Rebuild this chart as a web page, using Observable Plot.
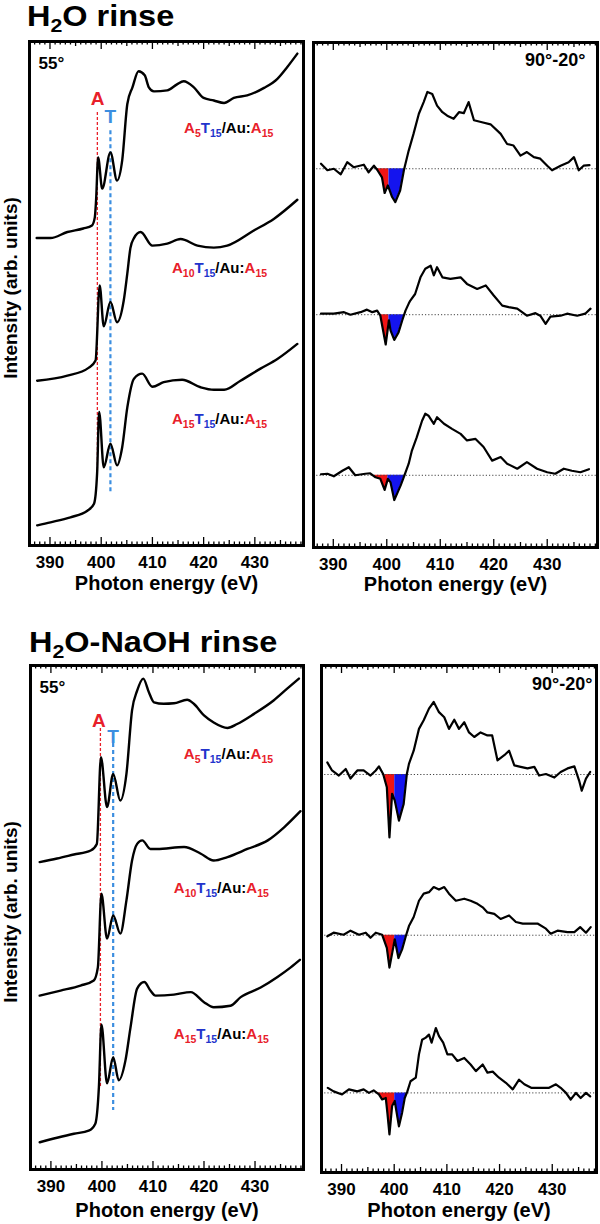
<!DOCTYPE html>
<html><head><meta charset="utf-8">
<script src="https://cdn.jsdelivr.net/npm/d3@7"></script>
<script src="https://cdn.jsdelivr.net/npm/@observablehq/plot@0.6"></script>
<style>
html,body{margin:0;background:#fff;}
#root{position:relative;width:600px;height:1224px;font-family:Arial,"Liberation Sans",Helvetica,sans-serif;overflow:hidden;color:#000;}
.abs{position:absolute;}
.title{font-weight:bold;font-size:29px;line-height:1;white-space:nowrap;transform:scaleX(1.12);transform-origin:0 0;}
.title sub{font-size:19px;vertical-align:-6px;line-height:0;}
.ylab{font-weight:bold;font-size:19px;line-height:1;white-space:nowrap;transform:translate(-50%,-50%) rotate(-90deg);}
.lab{font-weight:bold;font-size:15px;line-height:1;white-space:nowrap;transform:translate(-50%,-50%);}
.lab sub{font-size:10.5px;vertical-align:-4px;line-height:0;}
.r{color:#e8202a}.b{color:#2233cc}
</style></head><body><div id="root"></div>
<script>
// ---------- DATA ----------
const energyTicks = [390, 400, 410, 420, 430];

// H2O rinse, 55° (stacked, arb. units with offsets)
const h2o55_A5_E = [387.4,390.1,393.4,396.5,398.2,398.75,399.0,399.4,400.2,401.8,403.1,404.1,405.1,406.1,407.3,408.5,409.3,410.3,412.9,414.8,416.1,418.1,420.0,422.0,424.0,425.9,428.5,431.8,434.4,436.3,438.3];
const h2o55_A5_I = [6.10,6.10,6.22,6.29,6.35,6.51,6.85,7.70,7.08,7.80,7.24,7.64,8.76,9.09,9.41,9.33,9.09,9.01,9.03,9.15,9.21,9.09,8.88,8.83,8.78,8.88,8.93,9.08,9.26,9.49,9.76];
const h2o55_A10_E = [387.5,393.4,397.6,398.9,399.7,400.5,401.8,403.1,404.4,405.1,405.7,406.4,407.7,410.0,412.9,415.5,418.8,422.0,424.6,429.8,433.7,438.3];
const h2o55_A10_I = [3.27,3.37,3.53,3.67,5.16,4.35,4.83,4.43,4.86,5.40,5.90,6.10,6.22,5.95,5.99,6.08,5.95,5.91,5.95,6.25,6.48,6.86];
const h2o55_A15_E = [387.5,390.1,394.0,397.3,398.6,399.2,399.6,400.5,401.8,403.1,404.1,405.1,406.4,408.0,410.0,412.2,415.8,419.4,422.0,424.0,427.2,431.1,434.4,438.3];
const h2o55_A15_I = [0.40,0.46,0.56,0.69,0.83,1.43,2.65,1.55,2.02,1.59,1.95,2.74,3.31,3.41,3.15,3.24,3.29,3.14,3.09,3.09,3.27,3.51,3.70,4.00];

// H2O rinse, 90°-20° difference
const h2oDiff_base = [7.50, 4.61, 1.43];
const h2oDiff_A5_E = [387.7,388.9,390.1,391.4,392.6,393.8,395.7,396.6,397.6,398.2,399.1,399.6,400.2,401.0,401.6,402.5,403.2,404.1,405.0,406.0,406.9,407.6,408.5,409.4,410.4,411.3,412.5,413.5,414.4,415.3,416.3,417.8,419.4,421.3,422.5,423.7,425.0,426.2,427.5,428.7,430.0,430.9,432.5,434.0,435.0,435.9,436.8,437.9];
const h2oDiff_A5_I = [7.60,7.47,7.50,7.39,7.63,7.53,7.58,7.43,7.56,7.48,7.33,7.02,7.17,6.94,6.84,7.07,7.47,7.86,8.19,8.59,8.82,9.02,8.98,8.75,8.62,8.55,8.49,8.62,8.60,8.82,8.46,8.42,8.38,8.19,7.99,7.96,7.76,7.83,7.73,7.70,7.56,7.47,7.56,7.63,7.73,7.47,7.56,7.57];
const h2oDiff_A10_E = [387.7,390.1,392.0,393.2,395.1,396.3,397.3,398.2,398.8,399.8,400.4,400.7,401.4,402.2,402.9,403.5,404.1,404.4,405.3,406.3,407.2,408.2,408.8,409.4,410.4,411.9,413.8,415.0,416.9,418.5,420.0,421.6,422.8,424.4,426.2,427.8,428.7,429.7,430.6,432.5,433.7,435.6,437.1,438.1];
const h2oDiff_A10_I = [4.63,4.63,4.66,4.61,4.66,4.71,4.66,4.69,4.59,4.02,4.50,4.30,4.11,4.26,4.50,4.69,4.83,4.89,5.02,5.35,5.52,5.58,5.39,5.55,5.35,5.32,5.35,5.22,5.12,5.19,4.99,4.79,4.76,4.73,4.59,4.64,4.59,4.43,4.57,4.59,4.63,4.59,4.63,4.73];
const h2oDiff_A15_E = [387.7,388.9,390.1,391.7,392.9,394.1,396.0,396.9,397.9,398.8,399.6,400.2,400.7,401.4,402.6,403.3,404.1,404.7,405.6,406.6,407.2,407.8,408.8,409.4,410.7,412.2,413.8,415.0,416.6,418.1,419.7,421.3,422.5,424.4,426.2,428.1,430.0,431.5,433.1,434.6,436.2,437.8];
const h2oDiff_A15_I = [1.45,1.46,1.41,1.52,1.59,1.43,1.46,1.47,1.39,1.36,1.14,1.36,1.29,0.94,1.23,1.43,1.66,1.92,2.18,2.51,2.65,2.61,2.45,2.58,2.45,2.35,2.25,2.12,2.15,1.99,1.72,1.79,1.66,1.56,1.69,1.56,1.49,1.46,1.56,1.52,1.49,1.55];
// [A region start, A/T split, T region end] in eV
const h2oDiff_regions = [[398.0,400.4,403.2],[398.7,400.4,403.2],[397.8,400.2,403.3]];

// H2O-NaOH rinse, 55°
const naoh55_A5_E = [387.8,391.2,394.5,397.8,399.0,399.8,401.0,402.2,403.6,404.8,405.9,406.9,408.1,409.2,410.2,412.1,414.1,416.7,418.0,420.0,421.9,424.6,426.5,429.8,433.7,436.3,438.6];
const naoh55_A5_I = [6.10,6.17,6.25,6.33,6.46,8.18,7.19,7.85,7.32,7.85,9.11,9.50,9.74,9.47,9.27,9.24,9.25,9.32,9.24,9.01,8.87,8.76,8.84,9.04,9.31,9.54,9.74];
const naoh55_A10_E = [387.8,391.9,395.8,398.4,399.2,399.9,401.0,402.2,403.6,404.8,405.9,406.9,407.9,409.5,410.8,416.1,419.3,421.9,424.6,428.5,432.5,435.7,438.9];
const naoh55_A10_I = [3.45,3.55,3.65,3.75,4.01,5.47,4.58,5.04,4.68,5.34,6.13,6.46,6.53,6.36,6.36,6.40,6.27,6.13,6.20,6.36,6.53,6.79,7.11];
const naoh55_A15_E = [387.8,391.2,394.5,397.4,398.7,399.4,399.9,401.0,402.2,403.3,404.6,405.6,406.9,408.3,409.5,410.5,414.1,417.4,420.0,421.9,425.2,427.2,431.1,434.4,437.0,438.8];
const naoh55_A15_I = [0.54,0.63,0.71,0.77,0.91,1.63,2.88,1.71,2.23,1.77,2.16,2.82,3.59,3.72,3.55,3.45,3.47,3.52,3.32,3.22,3.25,3.42,3.61,3.82,4.01,4.16];

// H2O-NaOH rinse, 90°-20° difference
const naohDiff_base = [7.85, 4.68, 1.57];
const naohDiff_A5_E = [387.3,388.2,389.5,390.8,391.7,393.0,394.2,395.5,396.5,397.1,397.9,398.6,399.1,399.6,400.1,400.9,401.8,402.4,402.8,403.7,404.7,405.6,406.6,407.5,408.5,409.5,410.4,411.4,412.3,413.3,414.2,415.2,416.4,417.7,418.6,419.6,420.9,421.8,422.8,424.0,425.3,426.6,427.5,428.8,430.4,431.6,432.9,434.2,435.1,435.6,436.4,437.2];
const naohDiff_A5_I = [8.09,7.93,7.83,7.96,7.77,7.93,7.93,7.83,7.93,8.01,7.86,7.60,6.61,7.47,7.34,6.94,7.27,7.86,8.06,8.32,8.75,8.92,9.15,9.28,9.08,8.98,8.75,8.93,8.75,8.88,8.68,8.59,8.68,8.62,8.62,8.13,8.23,8.32,8.03,8.00,7.97,8.00,7.83,7.86,7.79,7.90,7.97,8.01,7.73,7.53,7.77,7.90];
const naohDiff_A10_E = [387.3,388.5,390.4,391.7,393.3,394.6,395.5,396.5,397.7,398.6,399.1,399.8,400.1,400.8,401.5,402.2,402.8,403.7,404.7,405.6,406.6,407.5,408.5,409.5,410.4,411.7,413.3,414.5,415.8,416.8,417.7,419.0,420.2,421.8,423.1,424.4,425.9,427.2,428.8,429.7,431.0,432.9,434.2,435.3,436.4,437.3];
const naohDiff_A10_I = [4.66,4.73,4.69,4.77,4.69,4.73,4.63,4.73,4.69,4.43,4.04,4.43,4.60,4.23,4.40,4.66,4.86,5.04,5.36,5.50,5.53,5.63,5.58,5.63,5.50,5.36,5.40,5.36,5.30,5.23,5.13,5.10,5.00,5.07,4.94,4.91,4.91,4.91,4.81,4.71,4.77,4.74,4.74,4.84,4.73,4.84];
const naohDiff_A15_E = [387.4,388.5,390.1,391.4,393.0,394.2,395.2,396.1,397.1,397.7,398.4,398.7,399.1,399.6,400.1,400.9,401.5,402.0,402.5,403.1,404.1,404.7,405.3,406.0,406.6,407.1,407.9,408.5,409.3,410.1,411.0,412.0,413.3,414.5,415.5,416.8,417.7,418.7,419.9,421.2,422.5,423.7,424.7,426.0,427.8,429.4,430.7,431.6,432.6,433.5,434.5,435.4,436.4,437.2];
const naohDiff_A15_I = [1.67,1.60,1.54,1.64,1.60,1.64,1.57,1.62,1.54,1.44,1.47,1.18,0.75,1.31,1.41,0.91,1.18,1.47,1.60,1.80,1.87,2.33,2.62,2.66,2.72,2.56,2.85,2.69,2.56,2.33,2.33,2.20,2.26,2.13,2.00,2.13,1.97,1.99,1.87,1.77,1.64,1.83,1.74,1.67,1.67,1.67,1.74,1.67,1.57,1.44,1.57,1.47,1.57,1.50];
const naohDiff_regions = [[398.2,400.1,402.4],[397.7,400.1,402.3],[396.6,400.1,402.45]];

// A / T guide lines [energy, top, bottom] and their letter positions
const h2oGuideA = [399.25, 8.59, 1.49], h2oGuideT = [401.8, 8.23, 1.03];
const naohGuideA = [399.7, 8.75, 1.61], naohGuideT = [402.2, 8.45, 1.17];
const h2oLetters = [{t:"A", E:399.3, v:8.86}, {t:"T", E:401.8, v:8.50}];
const naohLetters = [{t:"A", E:399.4, v:8.90}, {t:"T", E:402.2, v:8.58}];
// sample labels: subscript of first A, energy, intensity position
const sampleN = ["5", "10", "15"];
const h2oLabelPos = [[425.0, 8.29], [423.2, 5.52], [423.2, 2.52]];
const naohLabelPos = [[424.9, 8.25], [423.5, 5.60], [423.5, 2.70]];

// ---------- DRAW ----------
const FONT = 'Arial, "Liberation Sans", Helvetica, sans-serif';
const root = document.getElementById("root");
const RED = "#e8202a", LBLUE = "#3b8ee0";

const pts = (E, I) => E.map((e, i) => ({E: e, I: I[i]}));
function valueAt(p, e) {
  for (let i = 1; i < p.length; i++) if (p[i].E >= e) {
    const a = p[i-1], b = p[i], t = (e - a.E) / (b.E - a.E);
    return a.I + t * (b.I - a.I);
  }
  return p[p.length-1].I;
}
function region(p, a, b, base) {
  const out = [{E: a, I: Math.min(base, valueAt(p, a)), B: base}];
  p.forEach(d => { if (d.E > a && d.E < b) out.push({E: d.E, I: Math.min(base, d.I), B: base}); });
  out.push({E: b, I: Math.min(base, valueAt(p, b)), B: base});
  return out;
}

function addHTML(cls, html, x, y) {
  const d = document.createElement("div");
  d.className = "abs " + cls; d.innerHTML = html;
  d.style.left = x + "px"; d.style.top = y + "px";
  root.appendChild(d);
  return d;
}

function makePanel(cfg) {
  const [fx0, fy0, fx1, fy1] = cfg.frame;
  const innerH = fy1 - fy0;
  const mL = fx0 - cfg.left, mT = fy0 - cfg.top, mR = cfg.left + cfg.width - fx1, mB = cfg.height - mT - innerH;
  const [d0, d1] = cfg.xDomain;
  const all = d3.range(Math.ceil(d0), Math.floor(d1) + 1);
  const groups = [
    {ticks: all.filter(t => t % 5 !== 0), len: 3.5},
    {ticks: all.filter(t => t % 5 === 0 && t % 10 !== 0), len: 5},
    {ticks: all.filter(t => t % 10 === 0), len: 8}
  ];
  const marks = [];
  (cfg.fills || []).forEach(f => marks.push(Plot.areaY(f.pts, {x: "E", y1: "B", y2: "I", fill: f.color, curve: "linear"})));
  if (cfg.baselines) marks.push(Plot.ruleY(cfg.baselines, {stroke: "#444", strokeWidth: 1, strokeDasharray: "1.2,2"}));
  if (cfg.guides) {
    marks.push(Plot.ruleX([cfg.guides[0]], {x: d => d[0], y1: d => d[1], y2: d => d[2], stroke: RED, strokeWidth: 1.3, strokeDasharray: "3,2"}));
    marks.push(Plot.ruleX([cfg.guides[1]], {x: d => d[0], y1: d => d[1], y2: d => d[2], stroke: LBLUE, strokeWidth: 2.2, strokeDasharray: "4,3"}));
  }
  cfg.spectra.forEach(s => marks.push(Plot.line(s, {x: "E", y: "I", stroke: "#000", strokeWidth: cfg.lw, curve: cfg.curve, strokeLinejoin: "round"})));
  groups.forEach(g => {
    marks.push(Plot.ruleX(g.ticks, {x: d => d, insetTop: innerH - g.len, stroke: "#000", strokeWidth: 1.3}));
    marks.push(Plot.ruleX(g.ticks, {x: d => d, insetBottom: innerH - g.len, stroke: "#000", strokeWidth: 1.3}));
  });
  marks.push(Plot.axisX({ticks: energyTicks, tickSize: 0, tickPadding: 10, fontSize: 17, fontWeight: "bold", label: null}));
  marks.push(Plot.text(["Photon energy (eV)"], {text: d => d, frameAnchor: "bottom", lineAnchor: "middle", dy: cfg.titleDy, fontSize: 20, fontWeight: "bold"}));
  marks.push(Plot.frame({stroke: "#000", strokeWidth: 3}));
  marks.push(Plot.text([cfg.corner], {text: d => d, frameAnchor: cfg.cornerAnchor, dx: cfg.cornerDx, dy: cfg.cornerDy, fontSize: cfg.cornerSize, fontWeight: "bold"}));
  if (cfg.letters) {
    marks.push(Plot.text(cfg.letters.filter(d => d.t === "A"), {x: "E", y: "v", text: "t", fill: RED, fontSize: 19, fontWeight: "bold"}));
    marks.push(Plot.text(cfg.letters.filter(d => d.t === "T"), {x: "E", y: "v", text: "t", fill: LBLUE, fontSize: 19, fontWeight: "bold"}));
  }
  const svg = Plot.plot({
    width: cfg.width, height: cfg.height,
    marginLeft: mL, marginRight: mR, marginTop: mT, marginBottom: mB,
    x: {domain: [d0, d1]},
    y: {domain: [0, 10], axis: null},
    style: {fontFamily: FONT, background: "transparent", overflow: "visible", color: "#000"},
    marks
  });
  svg.style.position = "absolute";
  svg.style.left = cfg.left + "px";
  svg.style.top = cfg.top + "px";
  root.appendChild(svg);
  if (cfg.labelPos) {
    const xs = svg.scale("x"), ys = svg.scale("y");
    cfg.labelPos.forEach((p, i) => {
      const html = `<span class="r">A<sub>${sampleN[i]}</sub></span><span class="b">T<sub>15</sub></span>/Au:<span class="r">A<sub>15</sub></span>`;
      addHTML("lab", html, cfg.left + xs.apply(p[0]), cfg.top + ys.apply(p[1]));
    });
  }
  return svg;
}

function diffFills(specs, base, regions) {
  const out = [];
  specs.forEach((s, i) => {
    const [a, m, b] = regions[i];
    out.push({pts: region(s, a, m, base[i]), color: "#f01414"});
    out.push({pts: region(s, m, b, base[i]), color: "#1414ee"});
  });
  return out;
}

// Titles and y labels
addHTML("title", "H<sub>2</sub>O rinse", 27, 2);
addHTML("title", "H<sub>2</sub>O-NaOH rinse", 29, 628);
addHTML("ylab", "Intensity (arb. units)", 10, 288);
addHTML("ylab", "Intensity (arb. units)", 10, 912);

// Top-left
makePanel({
  left: 0, top: 35, width: 310, height: 565, frame: [29, 41, 303, 545], xDomain: [386, 439.5],
  spectra: [pts(h2o55_A5_E, h2o55_A5_I), pts(h2o55_A10_E, h2o55_A10_I), pts(h2o55_A15_E, h2o55_A15_I)],
  lw: 2.4, curve: "monotone-x", titleDy: 38,
  guides: [h2oGuideA, h2oGuideT], letters: h2oLetters, labelPos: h2oLabelPos,
  corner: "55°", cornerAnchor: "top-left", cornerDx: 9, cornerDy: 15, cornerSize: 17
});

// Top-right
const h2oDiffSpecs = [pts(h2oDiff_A5_E, h2oDiff_A5_I), pts(h2oDiff_A10_E, h2oDiff_A10_I), pts(h2oDiff_A15_E, h2oDiff_A15_I)];
makePanel({
  left: 305, top: 36, width: 295, height: 565, frame: [313, 42, 597, 547], xDomain: [386.3, 439.4],
  spectra: h2oDiffSpecs, baselines: h2oDiff_base, fills: diffFills(h2oDiffSpecs, h2oDiff_base, h2oDiff_regions),
  lw: 2.2, curve: "linear", titleDy: 37,
  corner: "90°-20°", cornerAnchor: "top-right", cornerDx: -12, cornerDy: 11, cornerSize: 18
});

// Bottom-left
makePanel({
  left: 0, top: 659, width: 310, height: 565, frame: [30, 665, 303, 1169], xDomain: [386, 439.5],
  spectra: [pts(naoh55_A5_E, naoh55_A5_I), pts(naoh55_A10_E, naoh55_A10_I), pts(naoh55_A15_E, naoh55_A15_I)],
  lw: 2.4, curve: "monotone-x", titleDy: 41,
  guides: [naohGuideA, naohGuideT], letters: naohLetters, labelPos: naohLabelPos,
  corner: "55°", cornerAnchor: "top-left", cornerDx: 9, cornerDy: 15, cornerSize: 17
});

// Bottom-right
const naohDiffSpecs = [pts(naohDiff_A5_E, naohDiff_A5_I), pts(naohDiff_A10_E, naohDiff_A10_I), pts(naohDiff_A15_E, naohDiff_A15_I)];
makePanel({
  left: 305, top: 659, width: 295, height: 565, frame: [321, 665, 596, 1172], xDomain: [386.2, 438.4],
  spectra: naohDiffSpecs, baselines: naohDiff_base, fills: diffFills(naohDiffSpecs, naohDiff_base, naohDiff_regions),
  lw: 2.2, curve: "linear", titleDy: 38,
  corner: "90°-20°", cornerAnchor: "top-right", cornerDx: -4, cornerDy: 12, cornerSize: 18
});
</script></body></html>
